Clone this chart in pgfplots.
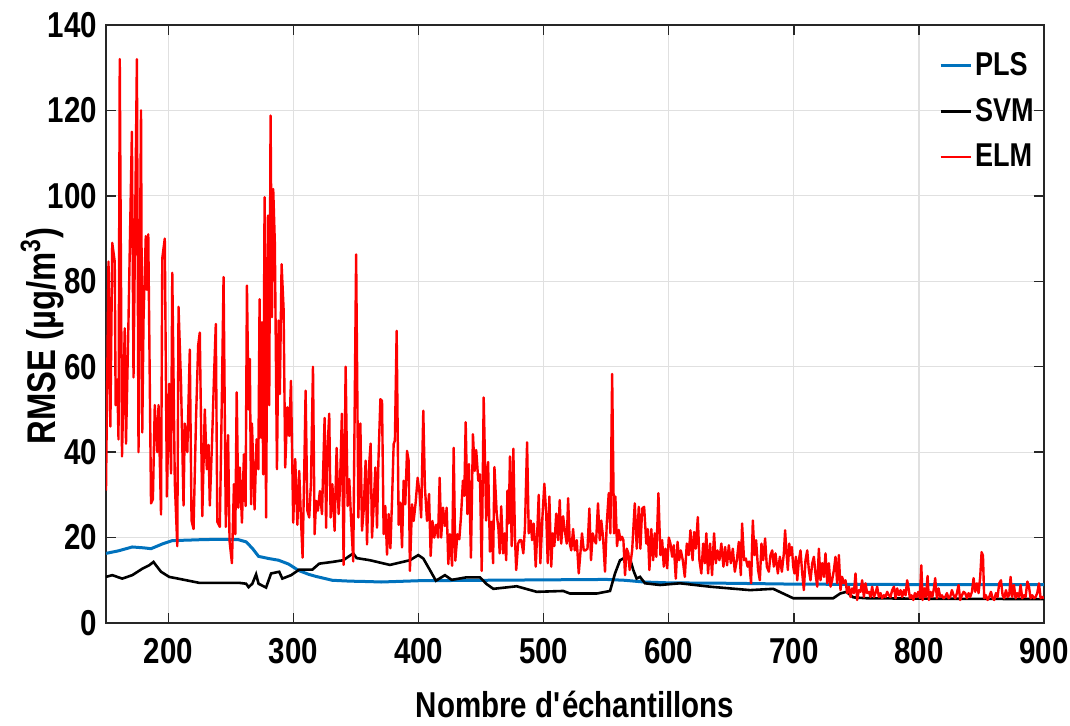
\documentclass[border=0pt]{standalone}
\usepackage{pgfplots}
\pgfplotsset{compat=1.18}
\usepackage{fontspec}
\setmainfont{Liberation Sans}[FakeStretch=0.82]
\definecolor{plsblue}{rgb}{0,0.447,0.741}
\begin{document}
\begin{tikzpicture}
\useasboundingbox (-53pt,-51pt) rectangle (482pt,311.5pt);
\begin{axis}[
  at={(0,0)}, anchor=south west,
  scale only axis, width=469pt, height=299pt,
  xmin=150, xmax=900, ymin=0, ymax=140,
  xtick={200,300,...,900}, ytick={0,20,...,140},
  grid=major, major grid style={color=black!12, line width=0.6pt},
  tick align=inside, major tick length=5pt,
  axis line style={color=black!85, line width=0.7pt},
  every tick/.style={color=black!85, line width=0.7pt},
  /pgf/number format/assume math mode=true,
  tick label style={font=\fontsize{18}{18}\selectfont\bfseries},
  xticklabel style={yshift=-4pt},
  yticklabel style={xshift=-1pt},
  xlabel={Nombre d\textquotesingle échantillons},
  ylabel={RMSE (µg/m\textsuperscript{3})},
  xlabel style={font=\fontsize{18}{18}\selectfont\bfseries, at={(axis description cs:0.5,-0.136)}, anchor=center},
  ylabel style={font=\fontsize{20}{20}\selectfont\bfseries, at={(axis description cs:-0.068,0.48)}, anchor=center},
  legend style={draw=none, fill=none, at={(axis description cs:0.999,0.967)}, anchor=north east,
    font=\fontsize{16.5}{16.5}\selectfont\bfseries, row sep=7pt, nodes={inner sep=1.5pt}},
  legend cell align=left,
  legend image code/.code={\draw[#1] (0pt,0pt) -- (15pt,0pt);},
]
\addplot[plsblue, line width=1.5pt] table {
x y
150 16.3
160 16.9
171 17.8
180 17.6
186 17.4
195 18.5
203 19.3
215 19.4
225 19.5
240 19.6
256 19.5
262 19
267 17.5
272 15.6
280 15.1
288 14.7
296 13.8
304 12.3
312 11.4
318 10.9
331 10.0
345 9.8
360 9.7
370 9.6
400 9.9
450 10.0
500 10.1
550 10.2
565 10.0
580 9.6
600 9.4
650 9.3
700 9.1
800 9.0
900 9.0
};
\addlegendentry{PLS}
\addplot[black, line width=1.3pt] table {
x y
150 10.8
155 11.2
163 10.4
171 11.2
179 12.7
184.5 13.5
188 14.3
190 13.5
194 12
200.5 10.8
211 10.2
224.5 9.4
238 9.4
256.5 9.4
262 9.2
264 8.4
267 9.2
270 11.4
272 9.2
278 8.3
282 11.6
288.5 12
291 10.4
298 11.2
304.5 12.5
315 12.5
320.5 13.9
331 14.3
339.7 14.7
347.7 16.3
350.4 15.2
361 14.7
377 13.6
393 14.7
399.7 15.9
403.7 15.1
409 12.4
413.8 9.9
421 11.2
426.4 10.1
438.4 10.7
449 10.7
454.4 9.1
459.7 8
478.4 8.6
494.4 7.3
515.6 7.5
521 6.9
542.3 6.9
553 7.5
557 11.6
561 14.7
565 15.3
569 15.1
571.6 12.4
574.3 10.4
577 10.8
581 9.3
593 8.9
609 9.3
633 8.5
665 7.7
683.5 8.0
691.5 6.9
699.5 5.8
731.5 5.8
737 6.9
742 7.3
747.5 6.0
758 5.8
800 5.7
900 5.6
};
\addlegendentry{SVM}
\addplot[red, line width=1.2pt, line join=round] table {
x y
150 31
152 84.6
153.5 46
155 89
157 84.6
157.7 51
159 57
160 43
161 132
162.8 39
165 69
166 42
168 71
170.7 115
172 57.5
174.7 132
176 40
178 120
179 44.6
180 71
181.8 90.6
182.7 78
183.8 91
186 28
187.5 29
189 51
191 40
192 51
194 25.4
195 85.4
197 90
198.7 29.6
200.5 56
202 35
203 82
205 33
207 18
208 74
210 56
212 27.5
213 46.7
215 40
217 64
218.4 24
220 22
222 48
223.7 65
225 68
227 25
229 50
230.6 36
232 41.7
233 27.5
234.8 42.5
236.4 58
237.8 70
239 23.7
241 22.5
242.6 51.7
244 81
245.8 22.5
247.6 44
248.8 19.2
250.7 14
252.3 32.5
253.4 20.8
254.5 54
255.8 27
257 36.4
258.7 23.5
260.3 39.5
261.6 27.4
262.7 79
264 50
265 61.8
266 27.8
266.7 46.7
268.8 26.6
270.4 43
271.8 36
272.8 75.8
273.9 43.4
274.7 70.4
275.7 34.8
276.8 99.7
278 24.7
279.5 95.4
280.5 51
281.6 118.8
282.7 71.6
283.7 101.6
285 89
286.7 36
288 70.8
289 53.6
290.4 84
292 73.5
293.3 36.4
295 50.5
296.5 43.8
297.9 56.7
299.7 23.5
301.3 38.4
303 23
304.5 35.6
305.9 24.3
307.2 15.3
308.8 40.3
309.6 54.4
311 26.3
312.5 24.7
313.9 32.9
315.5 60
316.8 20.8
318 28.6
319.4 26.3
321 30.9
322.7 25.5
324.8 48
326 22.3
327 40
328.5 49
329.6 24.7
331 32.5
332.8 21.6
334.4 41
336 25.5
337 31
338.6 49
340 13.6
341.6 60
343.2 27.4
344.5 33.7
346 24
347.7 14.4
350 86.3
351.8 24.7
353.4 46.7
354.7 21.6
356 26.3
357.6 38
358.7 18.4
360.3 36.7
361.6 42
362.7 20
364 27.4
365.4 36.4
366.7 22.3
367.8 37.6
369.4 52.4
370.7 52
372 20.8
373.3 27.4
374.7 16
376 25.5
377.4 17.5
378.7 28.6
380 41.9
381 42.7
382.4 68.4
384 23
385.3 28.2
386.7 17.7
388 33.3
389.3 27.8
390.7 40.3
392 38
393 12.2
394.7 27.8
396 23.9
397.6 28.2
399.2 34
400.8 30.2
402 24.7
403.7 49.7
405 31.7
406.7 23.9
408.3 30.2
409.6 15.7
411 23.9
412.5 20
413.9 23
415.5 20
416.8 34
418 20
419.5 27
421 22.7
422.4 27
423.7 13.8
425 20.8
426.7 13.4
428 41
429.3 14.6
431 20.8
432.5 19.6
433.8 24.7
435.4 33.3
436.5 29.8
437.6 47
439 25.5
440.2 37.2
441.8 15.3
443.4 44.2
444.8 35.6
446 40.5
447.7 33.3
449 34.8
450.4 12.2
452 52.8
454 24
455.5 37.7
457 16.7
458.4 23.7
459.5 14
460.6 36.5
462.4 25.6
463.8 22
464.8 16.3
466 27.3
467.5 16.3
468.8 21
470 14.7
471 31
472 23.3
473 39
474.4 18
475.7 40.8
477 20
478 12.4
479.5 18.6
480.8 19.4
482 19.4
483.7 16.3
485 22.5
486.7 42.3
488 21
489.6 24
490.7 19.4
492 23.3
493.6 13.2
495 22.5
496 30
497.3 14
499 25
500.5 32.6
502 25.6
503.2 14
504.5 29.6
506 13.2
507.2 21
508.5 18
510 25.6
511.5 19.4
512.8 28.8
514 18.6
515.5 25
516.8 21.8
518.4 18.6
519.5 29.2
520.8 18.6
522 17
523.5 22
524.8 17
526.4 19.4
528 11.6
529.3 16.3
530.6 21
532 17
533.3 17
535 17.4
536.5 26.8
537.8 14.7
539.2 21
540.5 19.4
541.8 18.6
543.4 28
544.8 19.4
546 24
547.4 20.2
549 12
550.4 23.3
552 30.4
553.3 21
554.7 58.3
556.2 21
557.3 29.6
558.6 18
560 21.8
561.3 19.4
562.6 20.2
563.7 19.4
565 11.2
566.4 17.4
567.7 16.3
568.7 12.4
570.7 17
572.8 28
574.4 17.4
576 27.2
577.3 17.4
578.7 26.8
580.3 27.2
582 18.6
583.2 22
584.5 12.4
586 22
587.5 14.7
588.8 21
590 15.5
591.7 30.4
593.3 15.9
594.7 19.4
596 13.2
597.3 17.4
598.7 12.8
600 20
601.3 18.6
602.7 15.5
604 18.2
605.6 10.4
607 19
608.3 14.7
609.6 17
611.2 14.7
612.8 10.8
614.4 18.6
616 15.9
617.3 21.7
619 14.7
620.3 21.3
621.6 17.4
623.2 24.8
624.5 14.7
626 11.6
627.5 18.6
628.8 14
630 21
631.4 11.6
633 18.6
634.6 11.2
636.2 21
637.6 14
638.9 17
640.5 14.7
642 18.6
643.7 13.2
645 17.8
646.6 13.5
648 18.2
649.6 14
651.2 17.4
652.8 12
654.4 14.7
656 19
657.6 11.2
658.6 23.3
660.2 14.7
661.6 15.1
663 13.2
664.2 14.4
665.8 9.3
667.2 24
668.5 15.9
669.8 19.4
671.4 12.4
672.8 10
674.1 18.6
675.5 14.7
677 19.8
678.4 13.2
680 12
681.3 15.9
682.7 17
684 13.2
685.3 16.3
687.2 11.6
688.8 15.5
690.4 12
692 16.3
693 21.7
694 17
695.2 12.4
696.3 18.6
697.3 15.9
698.4 17.8
699.5 13.2
700.5 11.6
701.6 15.5
702.7 10
704 14.7
705.3 17
706.7 11.6
708 7.7
709.3 14.7
710.7 17
712 12.4
713.3 10
714.7 14
716 15.5
717.3 11.6
718.7 8.5
720 17.4
721.3 10
722.7 14
724 10.8
725.3 16.3
726.7 9.3
728 14
729.3 8.5
730.6 10
732 12.4
733.3 15.5
734.6 9.3
736 15.9
737.3 7.7
738.6 10.8
740 9.3
741.3 10
742.6 7
744 8.5
745.3 6.1
746.6 8.1
748 7
749.3 11.6
750.6 5.4
752 7.7
753.3 7.3
754.6 10
756 6.1
757.3 9.3
758.6 7
760 7.3
761.3 6.1
762.6 8.5
764 6.1
765.3 7
766.6 8.5
768 6.1
769.3 7
770.6 5.8
772 6.5
773.3 6.1
774.6 7.3
776 6.5
777.3 6.1
778.6 7.7
780 8.5
781.3 5.8
782.6 8.1
784 6.5
785.3 7.7
786.6 6.1
788 7.7
789.3 6.5
790.6 10
791.5 8.5
792.8 5.8
794.1 6.5
795.5 5.4
796.8 7
798.1 6.1
799.5 7.3
800.8 5.8
801.9 13.5
803 5.4
804.3 8.1
805.6 6.1
806.9 11
808 5.4
809.3 7.3
810.7 6.1
812 8.1
813 10.5
814.4 5.8
815.7 8.1
817 6.1
818.4 6.5
819.7 5.8
821 6.1
822.4 7
823.7 5.8
825 6.1
826.4 7.7
827.7 6.5
829 5.8
830.4 7
831.7 8.9
833 5.4
834.4 6.5
835.7 7.3
837 7
838.4 5.8
839.7 7
841 6.1
842.4 7.3
843.7 10.5
845 7.3
846.4 9.3
847.7 7
849 10.8
850.1 16.6
851.2 15.8
852.2 5.8
853.6 6.5
854.9 5.4
856.2 6.1
857.6 7.3
858.9 5.8
860.2 5.4
861.6 7
862.9 6.1
864.2 9.3
865.6 10
866.9 6.5
868.2 5.8
869.6 7.7
870.9 6.1
872.2 6.5
873.3 10.8
874.6 6.1
876 8.9
877.3 5.8
878.6 7
880 6.1
881.3 8.9
882.6 5.8
884 6.5
885.3 6.1
886.7 9.7
888 8.5
889.3 5.8
890.6 6.5
892 5.8
893.3 6.1
894.6 7
896 9.3
897.3 5.8
898.6 6.1
900 5.8
};
\addlegendentry{ELM}
\end{axis}
\end{tikzpicture}
\end{document}
